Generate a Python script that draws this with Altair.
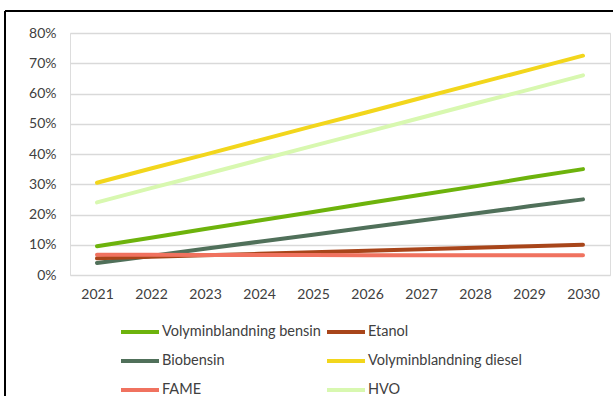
import altair as alt
import pandas as pd

years = [2021, 2022, 2023, 2024, 2025, 2026, 2027, 2028, 2029, 2030]
# legend order (column-major fill of a 2-column, 3-row legend)
legend_order = ["Volyminblandning bensin", "Biobensin", "FAME",
                "Etanol", "Volyminblandning diesel", "HVO"]
legend_colors = ["#6db30c", "#50705a", "#f0725f", "#a8451a", "#f2d61c", "#d8f8b0"]

bensin = [9.5, 12.3, 15.2, 18.0, 20.8, 23.7, 26.5, 29.3, 32.2, 35.0]
etanol = [5.5, 6.0, 6.5, 7.0, 7.5, 8.0, 8.5, 9.0, 9.5, 10.0]
biobensin = [4.0, 6.3, 8.7, 11.0, 13.3, 15.7, 18.0, 20.3, 22.7, 25.0]
diesel = [30.5, 35.2, 39.8, 44.5, 49.2, 53.8, 58.5, 63.2, 67.8, 72.5]
fame = [6.7, 6.7, 6.6, 6.6, 6.6, 6.5, 6.5, 6.5, 6.5, 6.5]
hvo = [24.0, 28.7, 33.3, 38.0, 42.7, 47.3, 52.0, 56.7, 61.3, 66.0]

draw_order = [
    ("Volyminblandning diesel", diesel),
    ("HVO", hvo),
    ("Volyminblandning bensin", bensin),
    ("Biobensin", biobensin),
    ("Etanol", etanol),
    ("FAME", fame),
]

rows = []
for i, (name, vals) in enumerate(draw_order):
    for y, v in zip(years, vals):
        rows.append({"year": str(y), "value": v / 100.0, "series": name, "ord": i})
df = pd.DataFrame(rows)

lines = alt.Chart(df).mark_line(strokeWidth=4, strokeCap="round").encode(
    x=alt.X("year:O", title=None,
            axis=alt.Axis(labelAngle=0, domain=False, ticks=False, labelPadding=12,
                          labelFontSize=14, labelColor="#404040", labelFont="Lato")),
    y=alt.Y("value:Q", title=None,
            scale=alt.Scale(domain=[0, 0.8], nice=False),
            axis=alt.Axis(format=".0%", values=[0, 0.1, 0.2, 0.3, 0.4, 0.5, 0.6, 0.7, 0.8],
                          domain=False, ticks=False, labelPadding=14,
                          labelFontSize=14, labelColor="#404040", labelFont="Lato",
                          gridColor="#d9d9d9", gridWidth=1.5)),
    color=alt.Color("series:N", scale=alt.Scale(domain=legend_order, range=legend_colors),
                    legend=alt.Legend(
                        title=None, orient="none", legendX=49, legendY=278,
                        columns=2, columnPadding=-2, rowPadding=-15,
                        symbolType="stroke", symbolStrokeWidth=4, symbolSize=1444,
                        labelFontSize=14.5, labelFont="Lato", labelColor="#404040",
                        labelLimit=400, labelOffset=1)),
    order=alt.Order("ord:Q"),
    detail="series:N",
)

frame_top = alt.Chart(df).mark_rule(color="black", strokeWidth=2).encode(
    x=alt.value(-65), x2=alt.value(560), y=alt.value(-22))
frame_left = alt.Chart(df).mark_rule(color="black", strokeWidth=2).encode(
    x=alt.value(-65), y=alt.value(-22), y2=alt.value(400))

chart = alt.layer(lines, frame_top, frame_left).properties(
    width=540, height=242,
    autosize=alt.AutoSizeParams(type="none"),
    padding={"left": 70, "top": 33, "right": 3, "bottom": 121},
).configure_view(stroke=None).configure(background="white")

chart.save("out.html", embed_options={"renderer": "svg", "actions": False})
